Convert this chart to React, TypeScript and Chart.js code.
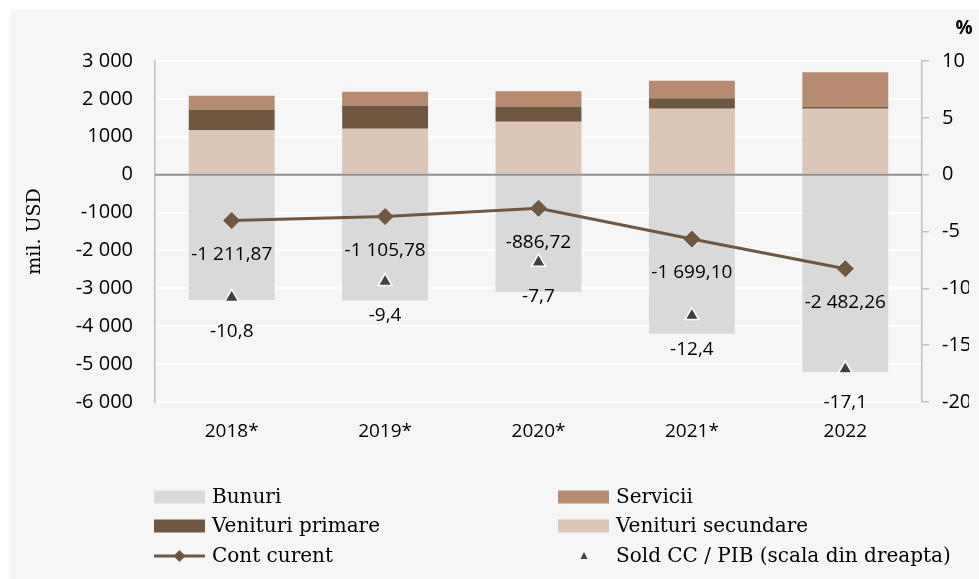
import React, { useEffect, useRef } from 'react';
import { Chart, registerables } from 'chart.js';

Chart.register(...registerables);

const categories = ['2018*', '2019*', '2020*', '2021*', '2022'];
const bunuri = [-3310, -3320, -3090, -4200, -5210];
const venituriSecundare = [1180, 1214, 1399, 1742, 1742];
const venituriPrimare = [536, 607, 396, 272, 53];
const servicii = [369, 369, 404, 467, 905];
const contCurent = [-1211.87, -1105.78, -886.72, -1699.1, -2482.26];
const soldCcPib = [-10.8, -9.4, -7.7, -12.4, -17.1];

const leftTickValues = [-6000, -5000, -4000, -3000, -2000, -1000, 0, 1000, 2000, 3000];
const leftTickLabels = ['-6 000', '-5 000', '-4 000', '-3 000', '-2 000', '-1000', '0', '1000', '2 000', '3 000'];
const rightTickValues = [-20, -15, -10, -5, 0, 5, 10];
const rightTickLabels = ['-20', '-15', '-10', '-5', '0', '5', '10'];

const seriesNames = {
  bunuri: 'Bunuri',
  servicii: 'Servicii',
  primare: 'Venituri primare',
  secundare: 'Venituri secundare',
  cont: 'Cont curent',
  sold: 'Sold CC / PIB (scala din dreapta)',
};
const yTitle = 'mil. USD';
const y1Title = '%';

const COLORS = {
  bunuri: '#d9d9d9',
  servicii: '#b68b6f',
  primare: '#6f5742',
  secundare: '#dbc6b8',
  line: '#6f5742',
  tri: '#404040',
};

const NUM_FONT = "'Open Sans', 'Noto Sans', sans-serif";
const SERIF_FONT = "'DejaVu Serif', 'Liberation Serif', serif";

function fmt(v: number, decimals: number): string {
  const neg = v < 0;
  const abs = Math.abs(v);
  const [intPart, decPart] = abs.toFixed(decimals).split('.');
  const withSep = intPart.replace(/\B(?=(\d{3})+(?!\d))/g, ' ');
  return (neg ? '-' : '') + withSep + (decPart ? ',' + decPart : '');
}

const bgPlugin = {
  id: 'bgPanel',
  beforeDraw(chart: any) {
    const { ctx, width, height } = chart;
    ctx.save();
    ctx.fillStyle = '#ffffff';
    ctx.fillRect(0, 0, width, height);
    ctx.fillStyle = '#f6f6f6';
    ctx.fillRect(10, 9, width - 10, height - 9);
    ctx.restore();
  },
};

const overlayPlugin = {
  id: 'overlay',
  afterDatasetsDraw(chart: any) {
    const { ctx, chartArea, scales } = chart;
    const y0 = scales.y.getPixelForValue(0);
    ctx.save();
    ctx.strokeStyle = '#8f8f8f';
    ctx.lineWidth = 2;
    ctx.beginPath();
    ctx.moveTo(chartArea.left, y0);
    ctx.lineTo(chartArea.right, y0);
    ctx.stroke();

    ctx.fillStyle = '#000000';
    ctx.font = `19px ${NUM_FONT}`;
    ctx.textAlign = 'center';
    ctx.textBaseline = 'middle';
    const lineMeta = chart.getDatasetMeta(4);
    lineMeta.data.forEach((pt: any, i: number) => {
      ctx.fillText(fmt(contCurent[i], 2), pt.x, pt.y + 34);
    });
    const triMeta = chart.getDatasetMeta(5);
    triMeta.data.forEach((pt: any, i: number) => {
      ctx.fillText(fmt(soldCcPib[i], 1), pt.x, pt.y + 34);
    });
    ctx.restore();
  },
  afterDraw(chart: any) {
    const { ctx } = chart;
    ctx.save();
    // % title
    ctx.fillStyle = '#000000';
    ctx.font = `bold 19px ${NUM_FONT}`;
    ctx.textAlign = 'center';
    ctx.textBaseline = 'middle';
    ctx.fillText(y1Title, 964, 29);

    // legend
    const col1 = 154;
    const col2 = 558;
    const rows = [497, 526, 556];
    const sw = 51;
    const sh = 13;
    const textOff = 58;
    ctx.font = `20px ${SERIF_FONT}`;
    ctx.textAlign = 'left';
    ctx.textBaseline = 'middle';

    const box = (x: number, y: number, color: string, label: string) => {
      ctx.fillStyle = color;
      ctx.fillRect(x, y - sh / 2, sw, sh);
      ctx.fillStyle = '#000000';
      ctx.fillText(label, x + textOff, y + 1);
    };
    box(col1, rows[0], COLORS.bunuri, seriesNames.bunuri);
    box(col2, rows[0], COLORS.servicii, seriesNames.servicii);
    box(col1, rows[1], COLORS.primare, seriesNames.primare);
    box(col2, rows[1], COLORS.secundare, seriesNames.secundare);

    // line legend
    ctx.strokeStyle = COLORS.line;
    ctx.lineWidth = 3;
    ctx.beginPath();
    ctx.moveTo(col1, rows[2]);
    ctx.lineTo(col1 + sw, rows[2]);
    ctx.stroke();
    const cx = col1 + sw / 2;
    const r = 6;
    ctx.fillStyle = COLORS.line;
    ctx.beginPath();
    ctx.moveTo(cx, rows[2] - r);
    ctx.lineTo(cx + r, rows[2]);
    ctx.lineTo(cx, rows[2] + r);
    ctx.lineTo(cx - r, rows[2]);
    ctx.closePath();
    ctx.fill();
    ctx.fillStyle = '#000000';
    ctx.fillText(seriesNames.cont, col1 + textOff, rows[2] + 1);

    // triangle legend
    const tx = col2 + 26;
    ctx.fillStyle = COLORS.tri;
    ctx.beginPath();
    ctx.moveTo(tx, rows[2] - 4);
    ctx.lineTo(tx + 3.5, rows[2] + 3);
    ctx.lineTo(tx - 3.5, rows[2] + 3);
    ctx.closePath();
    ctx.fill();
    ctx.fillStyle = '#000000';
    ctx.fillText(seriesNames.sold, col2 + textOff, rows[2] + 1);
    ctx.restore();
  },
};

export default function App() {
  const canvasRef = useRef<HTMLCanvasElement | null>(null);

  useEffect(() => {
    const canvas = canvasRef.current;
    if (!canvas) return;
    const barCommon = {
      type: 'bar' as const,
      yAxisID: 'y',
      stack: 'bars',
      order: 1,
      barPercentage: 0.56,
      categoryPercentage: 1,
      borderWidth: 0,
    };
    const chart = new Chart(canvas, {
      type: 'bar',
      data: {
        labels: categories,
        datasets: [
          { ...barCommon, label: seriesNames.bunuri, data: bunuri, backgroundColor: COLORS.bunuri },
          { ...barCommon, label: seriesNames.secundare, data: venituriSecundare, backgroundColor: COLORS.secundare },
          { ...barCommon, label: seriesNames.primare, data: venituriPrimare, backgroundColor: COLORS.primare },
          { ...barCommon, label: seriesNames.servicii, data: servicii, backgroundColor: COLORS.servicii },
          {
            type: 'line',
            label: seriesNames.cont,
            data: contCurent,
            yAxisID: 'y',
            stack: 'line',
            order: 0,
            borderColor: COLORS.line,
            backgroundColor: COLORS.line,
            borderWidth: 3,
            pointStyle: 'rectRot',
            pointRadius: 8,
            pointBackgroundColor: COLORS.line,
            pointBorderColor: COLORS.line,
            pointBorderWidth: 1,
            tension: 0,
            fill: false,
          } as any,
          {
            type: 'line',
            label: seriesNames.sold,
            data: soldCcPib,
            yAxisID: 'y1',
            order: 0,
            showLine: false,
            pointStyle: 'triangle',
            pointRadius: 8,
            pointBackgroundColor: COLORS.tri,
            pointBorderColor: '#ffffff',
            pointBorderWidth: 1.5,
            backgroundColor: COLORS.tri,
            borderColor: '#ffffff',
          } as any,
        ],
      },
      options: {
        responsive: false,
        animation: false,
        maintainAspectRatio: false,
        layout: { padding: { left: 10, right: 10, top: 61, bottom: 137 } },
        plugins: {
          legend: { display: false },
          tooltip: { enabled: false },
        },
        scales: {
          x: {
            stacked: true,
            grid: { display: false, drawTicks: false },
            border: { display: false },
            ticks: {
              color: '#000000',
              font: { family: NUM_FONT, size: 19 },
              padding: 18,
              maxRotation: 0,
            },
            afterFit: (s: any) => {
              s.height = 40;
            },
          },
          y: {
            position: 'left',
            stacked: true,
            min: -6000,
            max: 3000,
            afterBuildTicks: (s: any) => {
              s.ticks = leftTickValues.map((v) => ({ value: v }));
            },
            ticks: {
              color: '#000000',
              font: { family: NUM_FONT, size: 20 },
              padding: 22,
              callback: (v: any) => {
                const idx = leftTickValues.indexOf(Number(v));
                return idx >= 0 ? leftTickLabels[idx] : '';
              },
            },
            grid: {
              color: (ctx: any) => (ctx.tick && ctx.tick.value === 0 ? 'rgba(0,0,0,0)' : '#ffffff'),
              lineWidth: 2,
              drawTicks: false,
            },
            border: { display: true, color: '#bfbfbf', width: 1.5 },
            title: {
              display: true,
              text: yTitle,
              color: '#000000',
              font: { family: SERIF_FONT, size: 19, lineHeight: 1 },
              padding: { top: 16, bottom: 0 },
            },
            afterFit: (s: any) => {
              s.width = 145;
            },
          },
          y1: {
            position: 'right',
            min: -20,
            max: 10,
            afterBuildTicks: (s: any) => {
              s.ticks = rightTickValues.map((v) => ({ value: v }));
            },
            ticks: {
              color: '#000000',
              font: { family: NUM_FONT, size: 20 },
              padding: 13,
              callback: (v: any) => {
                const idx = rightTickValues.indexOf(Number(v));
                return idx >= 0 ? rightTickLabels[idx] : '';
              },
            },
            grid: {
              drawOnChartArea: false,
              drawTicks: true,
              tickLength: 7,
              color: '#bfbfbf',
              lineWidth: 1.5,
            },
            border: { display: true, color: '#bfbfbf', width: 1.5 },
            afterFit: (s: any) => {
              s.width = 47;
            },
          },
        },
      },
      plugins: [bgPlugin, overlayPlugin],
    } as any);
    return () => {
      chart.destroy();
    };
  }, []);

  return (
    <div style={{ position: 'fixed', left: 0, top: 0, width: 979, height: 579 }}>
      <canvas ref={canvasRef} width={979} height={579} style={{ width: 979, height: 579, display: 'block' }} />
    </div>
  );
}
